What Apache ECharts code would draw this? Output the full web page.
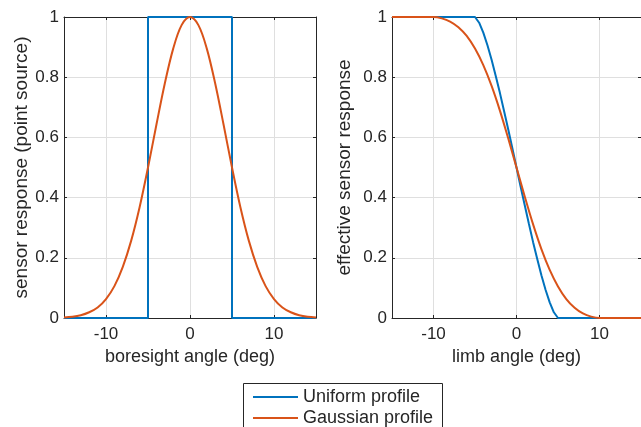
<!DOCTYPE html>
<html>
<head>
<meta charset="utf-8">
<script src="https://cdn.jsdelivr.net/npm/echarts@6/dist/echarts.min.js"></script>
<style>
html,body{margin:0;padding:0;background:#fff;}
#chart{width:641px;height:427px;}
</style>
</head>
<body>
<div id="chart"></div>
<script>
// ---- data ----
const seriesNames = ['Uniform profile', 'Gaussian profile'];
const xTickValues = [-10, 0, 10];
const yTickValues = [0, 0.2, 0.4, 0.6, 0.8, 1];

// left panel: point-source response vs boresight angle
const uniformPsfX = [-15, -5, -5, 5, 5, 15];
const uniformPsfY = [0, 0, 1, 1, 0, 0];
const gaussPsfX = [-15,-14,-13,-12,-11,-10,-9,-8,-7,-6,-5,-4,-3,-2,-1,0,1,2,3,4,5,6,7,8,9,10,11,12,13,14,15];
const gaussPsfY = [0.002,0.004,0.009,0.019,0.035,0.063,0.106,0.170,0.257,0.368,0.500,0.642,0.779,0.895,0.973,1.000,
                   0.973,0.895,0.779,0.642,0.500,0.368,0.257,0.170,0.106,0.063,0.035,0.019,0.009,0.004,0.002];

// right panel: effective response vs limb angle
const uniformLimbX = [-15,-5,-4.5,-4,-3.5,-3,-2.5,-2,-1.5,-1,-0.5,0,0.5,1,1.5,2,2.5,3,3.5,4,4.5,5,15];
const uniformLimbY = [1,1,0.981,0.948,0.906,0.858,0.804,0.748,0.688,0.627,0.564,0.5,0.436,0.374,0.312,0.252,0.196,0.142,0.094,0.052,0.019,0,0];
const gaussLimbX = [-15,-14,-13,-12,-11,-10,-9,-8,-7,-6,-5,-4,-3,-2,-1,0,1,2,3,4,5,6,7,8,9,10,11,12,13,14,15];
const gaussLimbY = [1,1,1,1,1,1,0.9955,0.985,0.966,0.937,0.895,0.840,0.771,0.689,0.597,0.5,
                    0.403,0.311,0.229,0.160,0.105,0.063,0.034,0.015,0.0045,0,0,0,0,0,0];

const xAxisNames = ['boresight angle (deg)', 'limb angle (deg)'];
const yAxisNames = ['sensor response (point source)', 'effective sensor response'];

// ---- styling ----
const FONT = '"Liberation Sans", Arial, Helvetica, sans-serif';
const INK = '#262626';
const BLUE = '#0072BD';
const ORANGE = '#D95319';

function pairs(xs, ys) { return xs.map((x, i) => [x, ys[i]]); }
function fmtY(v) { return String(Math.round(v * 10) / 10); }

const grids = [
  { left: 64, top: 17, width: 252, height: 301 },
  { left: 392, top: 17, width: 252, height: 301 }
];

const xAxes = [], yAxes = [];
[0, 1].forEach(g => {
  const base = {
    type: 'value', gridIndex: g, min: -15, max: 15,
    axisLine: { show: true, onZero: false, lineStyle: { color: INK, width: 1 } }
  };
  xAxes.push(Object.assign({}, base, {
    position: 'bottom',
    name: xAxisNames[g], nameLocation: 'middle', nameGap: 28,
    nameTextStyle: { fontFamily: FONT, fontSize: 18, color: INK },
    axisTick: { show: true, inside: true, length: 3, customValues: xTickValues, lineStyle: { color: INK } },
    axisLabel: { show: true, customValues: xTickValues, margin: 8, fontFamily: FONT, fontSize: 17, color: INK,
                 formatter: v => String(v) },
    splitLine: { show: true, lineStyle: { color: '#dfdfdf', width: 1 } }
  }));
  xAxes.push(Object.assign({}, base, {
    position: 'top',
    axisTick: { show: true, inside: true, length: 3, customValues: xTickValues, lineStyle: { color: INK } },
    axisLabel: { show: false, customValues: xTickValues },
    splitLine: { show: false }
  }));
  const ybase = {
    type: 'value', gridIndex: g, min: 0, max: 1, interval: 0.2,
    axisLine: { show: true, onZero: false, lineStyle: { color: INK, width: 1 } }
  };
  yAxes.push(Object.assign({}, ybase, {
    position: 'left',
    name: yAxisNames[g], nameLocation: 'middle', nameGap: g === 0 ? 32 : 38,
    nameTextStyle: { fontFamily: FONT, fontSize: 19, color: INK },
    axisTick: { show: true, inside: true, length: 3, lineStyle: { color: INK } },
    axisLabel: { show: true, margin: 5, fontFamily: FONT, fontSize: 17, color: INK, formatter: fmtY },
    splitLine: { show: true, lineStyle: { color: '#dfdfdf', width: 1 } }
  }));
  yAxes.push(Object.assign({}, ybase, {
    position: 'right',
    axisTick: { show: true, inside: true, length: 3, lineStyle: { color: INK } },
    axisLabel: { show: false },
    splitLine: { show: false }
  }));
});

const lineBase = { type: 'line', showSymbol: false, symbol: 'none', silent: true, animation: false, z: 3 };
const series = [
  Object.assign({}, lineBase, { name: seriesNames[0], xAxisIndex: 0, yAxisIndex: 0, data: pairs(uniformPsfX, uniformPsfY),
    lineStyle: { color: BLUE, width: 2 }, itemStyle: { color: BLUE } }),
  Object.assign({}, lineBase, { name: seriesNames[1], xAxisIndex: 0, yAxisIndex: 0, data: pairs(gaussPsfX, gaussPsfY),
    smooth: 0.35, lineStyle: { color: ORANGE, width: 2 }, itemStyle: { color: ORANGE } }),
  Object.assign({}, lineBase, { name: seriesNames[0], xAxisIndex: 2, yAxisIndex: 2, data: pairs(uniformLimbX, uniformLimbY),
    lineStyle: { color: BLUE, width: 2 }, itemStyle: { color: BLUE } }),
  Object.assign({}, lineBase, { name: seriesNames[1], xAxisIndex: 2, yAxisIndex: 2, data: pairs(gaussLimbX, gaussLimbY),
    smooth: 0.35, lineStyle: { color: ORANGE, width: 2 }, itemStyle: { color: ORANGE } })
];

const legendBase = {
  orient: 'horizontal', left: 253,
  icon: 'rect', itemWidth: 45, itemHeight: 2, padding: 0,
  selectedMode: false,
  textStyle: { fontFamily: FONT, fontSize: 18, color: INK, lineHeight: 20 }
};

const chart = echarts.init(document.getElementById('chart'), null, { renderer: 'canvas' });
chart.setOption({
  animation: false,
  backgroundColor: '#fff',
  grid: grids,
  xAxis: xAxes,
  yAxis: yAxes,
  graphic: [{
    type: 'rect', left: 243, top: 383, z: 10,
    shape: { width: 199, height: 60 },
    style: { fill: '#fff', stroke: INK, lineWidth: 1 }
  }],
  legend: [
    Object.assign({}, legendBase, { data: [seriesNames[0]], top: 387, z: 20 }),
    Object.assign({}, legendBase, { data: [seriesNames[1]], top: 408, z: 20 })
  ],
  series: series
});
</script>
</body>
</html>
